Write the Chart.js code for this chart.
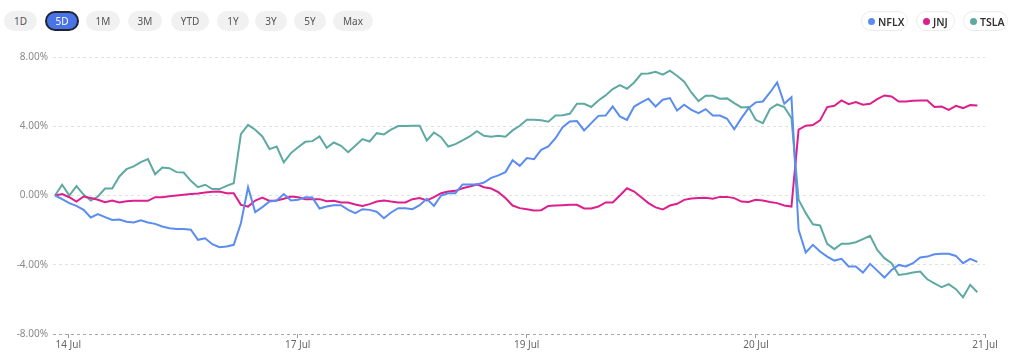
<!DOCTYPE html>
<html>
<head>
<meta charset="utf-8">
<script src="https://cdn.jsdelivr.net/npm/chart.js@4.4.0/dist/chart.umd.min.js"></script>
<style>
  html, body { margin: 0; padding: 0; background: #fff; }
  body { width: 1024px; height: 364px; position: relative; overflow: hidden; font-family: "Noto Sans", "Open Sans", sans-serif; }
  #wrap { position: absolute; left: 0; top: 0; width: 1024px; height: 364px; }
  .btn { position: absolute; top: 11px; height: 20px; line-height: 20px; border-radius: 10px; background: #f1f1f1; color: #555; font-size: 10px; text-align: center; box-sizing: border-box; }
  .btn.sel { background: #4a74e6; color: #fff; border: 2px solid #1f2430; line-height: 16px; }
  .leg { position: absolute; top: 11px; height: 20px; line-height: 20px; border-radius: 10px; background: #fff; border: 1px solid #ececec; box-sizing: border-box; font-size: 10.5px; font-weight: 600; color: #333; padding-left: 16px; }
  .leg i { position: absolute; left: 6px; top: 6px; width: 7px; height: 7px; border-radius: 50%; }
</style>
</head>
<body>
<div id="wrap"><canvas id="c" width="1024" height="364"></canvas></div>
<div class="btn" style="left:4px;width:33px">1D</div>
<div class="btn sel" style="left:45px;width:34px">5D</div>
<div class="btn" style="left:86px;width:34px">1M</div>
<div class="btn" style="left:128px;width:34px">3M</div>
<div class="btn" style="left:171px;width:38px">YTD</div>
<div class="btn" style="left:217px;width:32px">1Y</div>
<div class="btn" style="left:255px;width:32px">3Y</div>
<div class="btn" style="left:294px;width:32px">5Y</div>
<div class="btn" style="left:333px;width:40px">Max</div>
<div class="leg" style="left:861px;width:47px"><i style="background:#5b8cf0"></i>NFLX</div>
<div class="leg" style="left:916px;width:39px"><i style="background:#dc1f8d"></i>JNJ</div>
<div class="leg" style="left:963px;width:45px"><i style="background:#5ea9a3"></i>TSLA</div>
<script>
// ---- data (percent change, one value per time step) ----
const seriesNames = ["NFLX", "JNJ", "TSLA"];
const nflx = [0,-0.21,-0.44,-0.60,-0.83,-1.27,-1.08,-1.25,-1.41,-1.39,-1.52,-1.56,-1.43,-1.56,-1.64,-1.79,-1.89,-1.93,-1.93,-1.98,-2.56,-2.47,-2.81,-2.99,-2.95,-2.85,-1.60,0.48,-0.96,-0.67,-0.35,-0.29,0.08,
  -0.29,-0.25,-0.10,-0.12,-0.75,-0.64,-0.56,-0.56,-0.83,-1.02,-0.79,-0.83,-0.94,-1.31,-0.98,-0.73,-0.73,-0.79,-0.56,-0.19,-0.60,0.00,0.13,0.13,0.64,0.64,0.64,0.75,1.02,1.16,1.35,2.04,1.71,
  2.16,2.10,2.64,2.83,3.31,3.95,4.28,4.30,3.76,4.18,4.60,4.62,5.14,4.57,4.37,5.14,5.38,5.59,5.14,5.53,5.63,4.91,5.24,4.95,4.76,4.99,4.62,4.62,4.43,3.83,4.47,5.05,5.38,
  5.43,5.95,6.53,5.30,5.68,-1.98,-3.29,-2.85,-3.24,-3.53,-3.76,-3.66,-4.10,-4.10,-4.45,-3.95,-4.34,-4.74,-4.30,-4.01,-4.10,-3.91,-3.58,-3.53,-3.39,-3.37,-3.37,-3.49,-3.91,-3.66,-3.83];
const jnj = [0,0.08,-0.10,-0.35,-0.06,-0.15,-0.25,-0.39,-0.29,-0.40,-0.33,-0.31,-0.31,-0.31,-0.10,-0.10,-0.04,0.00,0.04,0.08,0.12,0.17,0.21,0.23,0.13,0.13,-0.54,-0.64,-0.29,-0.12,-0.31,-0.29,-0.19,
  -0.06,-0.10,-0.21,-0.21,-0.21,-0.33,-0.31,-0.40,-0.40,-0.52,-0.60,-0.50,-0.35,-0.29,-0.35,-0.40,-0.40,-0.21,-0.15,-0.29,-0.10,0.13,0.23,0.27,0.42,0.52,0.64,0.48,0.40,0.19,-0.15,-0.58,-0.73,
  -0.79,-0.87,-0.85,-0.60,-0.58,-0.56,-0.54,-0.54,-0.75,-0.75,-0.64,-0.40,-0.40,0.00,0.42,0.23,-0.10,-0.44,-0.69,-0.81,-0.58,-0.48,-0.25,-0.17,-0.15,-0.13,-0.19,-0.08,-0.08,-0.15,-0.35,-0.37,-0.25,
  -0.29,-0.37,-0.44,-0.58,-0.64,3.80,4.03,4.07,4.34,5.11,5.18,5.49,5.28,5.40,5.24,5.30,5.57,5.78,5.72,5.43,5.43,5.47,5.49,5.49,5.11,5.14,4.95,5.18,5.05,5.22,5.20];
const tsla = [0,0.62,0,0.54,0.05,-0.29,-0.06,0.40,0.40,1.10,1.52,1.68,1.93,2.10,1.23,1.62,1.58,1.35,1.33,0.85,0.48,0.62,0.37,0.37,0.56,0.71,3.55,4.08,3.80,3.41,2.68,2.83,1.91,
  2.45,2.79,3.10,3.14,3.41,2.76,3.06,2.87,2.50,2.87,3.26,3.12,3.60,3.53,3.80,4.01,4.01,4.03,4.03,3.18,3.64,3.37,2.83,2.97,3.18,3.41,3.72,3.45,3.39,3.45,3.39,3.76,4.03,
  4.37,4.37,4.34,4.26,4.62,4.64,4.72,5.30,5.30,5.11,5.49,5.78,6.15,6.38,6.17,6.53,7.03,7.05,7.15,6.98,7.21,6.92,6.57,5.95,5.45,5.76,5.76,5.59,5.61,5.34,5.09,5.11,4.37,
  4.18,5.00,5.26,5.11,4.47,-0.25,-1.02,-1.66,-1.73,-2.79,-3.10,-2.79,-2.79,-2.70,-2.52,-2.33,-3.14,-3.62,-3.91,-4.59,-4.53,-4.45,-4.39,-4.84,-5.07,-5.30,-5.12,-5.41,-5.88,-5.16,-5.59];
const tickLabels = ["14 Jul", "17 Jul", "19 Jul", "20 Jul", "21 Jul"];
const tickIndex = [1.86, 33.94, 65.97, 98.04, 130.07];   // position of each date label along the time steps
const yTicks = [-8, -4, 0, 4, 8];

const colors = ["#5b8cf0", "#dc1f8d", "#5ea9a3"];
const seriesValues = [nflx, jnj, tsla];

const datasets = seriesNames.map((name, k) => ({
  label: name,
  data: seriesValues[k].map((v, i) => ({ x: i, y: v })),
  borderColor: colors[k],
  backgroundColor: colors[k],
  borderWidth: 2,
  pointRadius: 0,
  tension: 0,
  fill: false
}));

new Chart(document.getElementById("c"), {
  type: "line",
  data: { datasets },
  options: {
    responsive: false,
    animation: false,
    events: [],
    layout: { padding: { top: 57, right: 39, left: 0, bottom: 0 } },
    plugins: { legend: { display: false }, tooltip: { enabled: false } },
    scales: {
      x: {
        type: "linear",
        min: -0.28,
        max: 130.07,
        afterBuildTicks: (s) => { s.ticks = tickIndex.map(v => ({ value: v })); },
        afterFit: (s) => { s.height = 30; },
        ticks: {
          autoSkip: false,
          maxRotation: 0,
          padding: 1,
          color: "#666",
          font: { family: "Noto Sans", size: 10 },
          callback: (v, i) => tickLabels[i]
        },
        grid: { drawOnChartArea: false, drawTicks: true, tickLength: 4, tickColor: "#9a9a9a" },
        border: { display: false }
      },
      y: {
        min: -8,
        max: 8,
        afterBuildTicks: (s) => { s.ticks = yTicks.map(v => ({ value: v })); },
        afterFit: (s) => { s.width = 53; },
        ticks: {
          padding: 5,
          color: "#8a8a8a",
          font: { family: "Noto Sans", size: 10 },
          callback: (v) => v.toFixed(2) + "%"
        },
        grid: {
          drawTicks: false,
          color: (ctx) => (ctx.tick && ctx.tick.value === -8) ? "#a8a8a8" : "#e2e2e2",
          lineWidth: 1
        },
        border: { display: false, dash: [3, 3] }
      }
    }
  }
});
</script>
</body>
</html>
